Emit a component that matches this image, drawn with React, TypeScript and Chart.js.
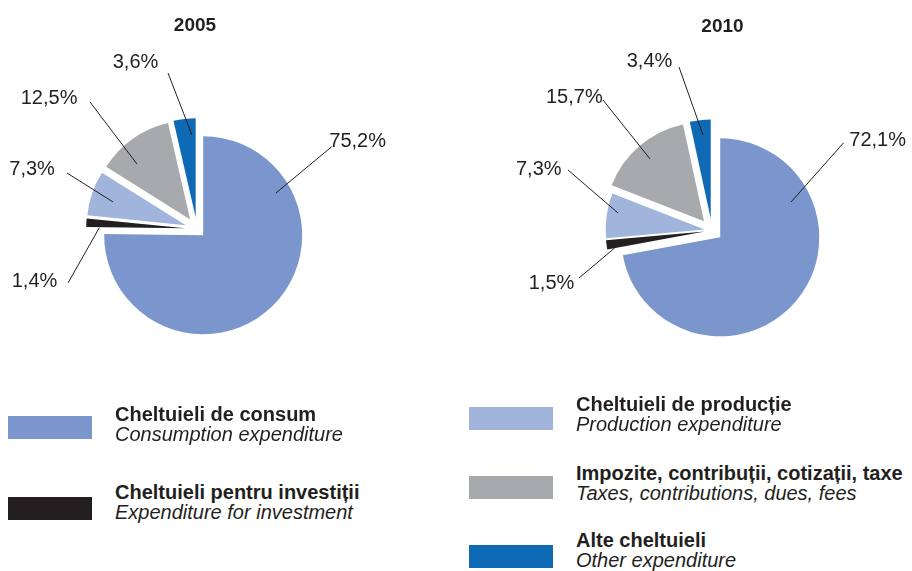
import React, { useEffect, useRef } from 'react';
import { Chart, registerables } from 'chart.js';

Chart.register(...registerables);

// ---------- data ----------
const years = ['2005', '2010'];
const categoriesRo = [
  'Cheltuieli de consum',
  'Cheltuieli pentru investiții',
  'Cheltuieli de producție',
  'Impozite, contribuții, cotizații, taxe',
  'Alte cheltuieli',
];
const categoriesEn = [
  'Consumption expenditure',
  'Expenditure for investment',
  'Production expenditure',
  'Taxes, contributions, dues, fees',
  'Other expenditure',
];
const values2005 = [75.2, 1.4, 7.3, 12.5, 3.6];
const values2010 = [72.1, 1.5, 7.3, 15.7, 3.4];
const seriesValues = [values2005, values2010];
const sliceColors = ['#7a96cc', '#231f20', '#a1b4dc', '#a7a9ac', '#0e6ab4'];

// ---------- styles / layout ----------
const TEXT = '#231f20';
const FONT = '"Liberation Sans", Arial, Helvetica, sans-serif';

type Pt = [number, number];
type PieLayout = {
  canvas: { left: number; top: number; width: number; height: number };
  radius: number;
  explode: number[];
  title: Pt;
  text: Pt[];
  lineStart: Pt[];
  anchor: Pt[];
};

const pieLayouts: PieLayout[] = [
  {
    canvas: { left: 0, top: 0, width: 394, height: 458 },
    radius: 99,
    explode: [8.8, 11.8, 11.8, 11.8, 11.8],
    title: [-2, -198.3],
    text: [[132.3, -82.3], [-185.3, 57.7], [-187.7, -54], [-176.3, -125], [-84.3, -160.7]],
    lineStart: [[134.7, -82.3], [-129, 54], [-130, -56], [-107, -127], [-29, -156]],
    anchor: [[72.8, -42.3], [-85.9, -0.6], [-72.8, -23.2], [-53.2, -55.4], [-3.7, -82.3]],
  },
  {
    canvas: { left: 512, top: 0, width: 400, height: 461 },
    radius: 99,
    explode: [10.7, 7.4, 7.4, 12.3, 12],
    title: [10.5, -198.2],
    text: [[137.3, -84.8], [-183.3, 58.5], [-196, -55.5], [-166, -127.2], [-85.3, -163.8]],
    lineStart: [[131.7, -87.8], [-133, 47.5], [-144, -60.5], [-109, -130.5], [-33, -163.5]],
    anchor: [[70.8, -35.3], [-90, 16.5], [-86.7, -16.5], [-54, -62.2], [-7.7, -83.6]],
  },
];

const legendSlots = [
  { swatchX: 8, swatchY: 416, textX: 115, textY: 403.8 },
  { swatchX: 8, swatchY: 497, textX: 115, textY: 482.4 },
  { swatchX: 469, swatchY: 407, textX: 576, textY: 393.8 },
  { swatchX: 469, swatchY: 476, textX: 576, textY: 463.1 },
  { swatchX: 469, swatchY: 545, textX: 576, textY: 529.8 },
];

const fmt = (v: number) => v.toFixed(1).replace('.', ',') + '%';

function makeDecorPlugin(layout: PieLayout, title: string) {
  return {
    id: 'pieDecor',
    afterDatasetsUpdate(chart: any) {
      const ca = chart.chartArea;
      const cx = (ca.left + ca.right) / 2;
      const cy = (ca.top + ca.bottom) / 2;
      const meta = chart.getDatasetMeta(0);
      meta.data.forEach((arc: any, i: number) => {
        const mid = (arc.startAngle + arc.endAngle) / 2;
        const d = layout.explode[i] || 0;
        arc.x = cx + Math.cos(mid) * d;
        arc.y = cy + Math.sin(mid) * d;
      });
    },
    afterDatasetsDraw(chart: any) {
      const ctx: CanvasRenderingContext2D = chart.ctx;
      const ca = chart.chartArea;
      const cx = (ca.left + ca.right) / 2;
      const cy = (ca.top + ca.bottom) / 2;
      const meta = chart.getDatasetMeta(0);
      const data: number[] = chart.data.datasets[0].data;
      ctx.save();
      ctx.strokeStyle = TEXT;
      ctx.fillStyle = TEXT;
      ctx.lineWidth = 1;
      ctx.font = `20px ${FONT}`;
      ctx.textAlign = 'left';
      ctx.textBaseline = 'alphabetic';
      meta.data.forEach((arc: any, i: number) => {
        const a = layout.anchor[i];
        const s = layout.lineStart[i];
        const t = layout.text[i];
        ctx.beginPath();
        ctx.moveTo(cx + s[0], cy + s[1]);
        ctx.lineTo(arc.x + a[0], arc.y + a[1]);
        ctx.stroke();
        ctx.fillText(fmt(data[i]), cx + t[0], cy + t[1]);
      });
      ctx.font = `bold 19px ${FONT}`;
      ctx.textAlign = 'center';
      ctx.fillText(title, cx + layout.title[0], cy + layout.title[1]);
      ctx.restore();
    },
  };
}

function PieChart({ index }: { index: number }) {
  const ref = useRef<HTMLCanvasElement | null>(null);
  const layout = pieLayouts[index];
  useEffect(() => {
    if (!ref.current) return;
    const chart = new Chart(ref.current, {
      type: 'pie',
      data: {
        labels: categoriesRo,
        datasets: [
          {
            data: seriesValues[index],
            backgroundColor: sliceColors,
            borderWidth: 0,
            offset: 0,
          },
        ],
      },
      options: {
        responsive: false,
        animation: false,
        events: [],
        radius: layout.radius,
        layout: { padding: 0 },
        plugins: {
          legend: { display: false },
          tooltip: { enabled: false },
          title: { display: false },
        },
      } as any,
      plugins: [makeDecorPlugin(layout, years[index])],
    });
    return () => chart.destroy();
  }, [index]);
  return (
    <canvas
      ref={ref}
      width={layout.canvas.width}
      height={layout.canvas.height}
      style={{
        position: 'absolute',
        left: layout.canvas.left,
        top: layout.canvas.top,
        width: layout.canvas.width,
        height: layout.canvas.height,
      }}
    />
  );
}

export default function App() {
  return (
    <div
      style={{
        position: 'absolute',
        left: 0,
        top: 0,
        width: 912,
        height: 571,
        overflow: 'hidden',
        background: '#ffffff',
        fontFamily: FONT,
        color: TEXT,
      }}
    >
      <PieChart index={0} />
      <PieChart index={1} />
      {legendSlots.map((slot, i) => (
        <React.Fragment key={i}>
          <div
            style={{
              position: 'absolute',
              left: slot.swatchX,
              top: slot.swatchY,
              width: 84,
              height: 23,
              background: sliceColors[i],
            }}
          />
          <div
            style={{
              position: 'absolute',
              left: slot.textX,
              top: slot.textY,
              fontSize: 20,
              lineHeight: '20px',
              whiteSpace: 'nowrap',
            }}
          >
            <div style={{ fontWeight: 'bold' }}>{categoriesRo[i]}</div>
            <div style={{ fontStyle: 'italic' }}>{categoriesEn[i]}</div>
          </div>
        </React.Fragment>
      ))}
    </div>
  );
}
